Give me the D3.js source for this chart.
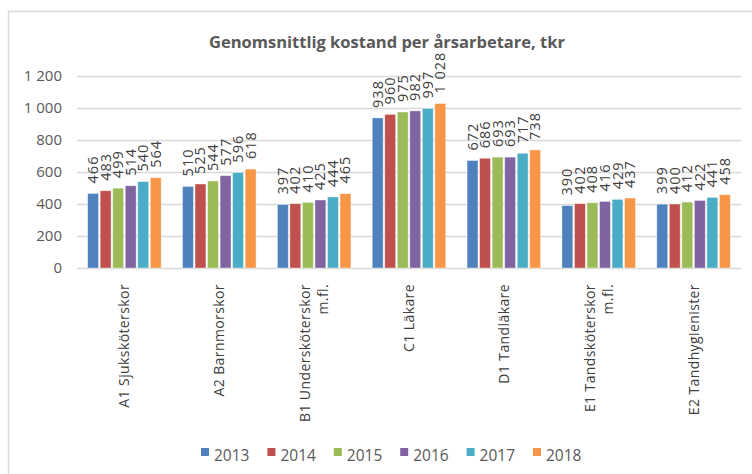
<!DOCTYPE html>
<html>
<head>
<meta charset="utf-8">
<script src="https://cdn.jsdelivr.net/npm/d3@7"></script>
<style>
  body { margin: 0; background: #fff; }
  svg text { font-family: "Open Sans", "Liberation Sans", sans-serif; }
</style>
</head>
<body>
<div id="chart"></div>
<script>
const width = 752;
const height = 474;

const categories = [
    ["A1 Sjuksköterskor"],
    ["A2 Barnmorskor"],
    ["B1 Undersköterskor", "m.fl."],
    ["C1 Läkare"],
    ["D1 Tandläkare"],
    ["E1 Tandsköterskor", "m.fl."],
    ["E2 Tandhygienister"]
];
const years = ["2013", "2014", "2015", "2016", "2017", "2018"];
const colors = ["#4f81bd", "#c0504d", "#9bbb59", "#8064a2", "#4bacc6", "#f79646"];

// one array per year, one value per category
const v2013 = [466, 510, 397, 938, 672, 390, 399];
const v2014 = [483, 525, 402, 960, 686, 402, 400];
const v2015 = [499, 544, 410, 975, 693, 408, 412];
const v2016 = [514, 577, 425, 982, 693, 416, 422];
const v2017 = [540, 596, 444, 997, 717, 429, 441];
const v2018 = [564, 618, 465, 1028, 738, 437, 458];
const series = [v2013, v2014, v2015, v2016, v2017, v2018];

const yTicks = [0, 200, 400, 600, 800, 1000, 1200];

const locale = d3.formatLocale({ decimal: ",", thousands: " ", grouping: [3], currency: ["", ""] });
const fmt = locale.format(",d");

const plot = { left: 77, right: 741, top: 76, bottom: 268 };

const svg = d3.select("#chart").append("svg")
    .attr("width", width)
    .attr("height", height);

//Chart outer border
svg.append("rect")
    .attr("x", 8.5).attr("y", 11.5)
    .attr("width", 780).attr("height", 500)
    .attr("fill", "#fff")
    .attr("stroke", "#d9d9d9")
    .attr("stroke-width", 1.5);

svg.append("text")
    .attr("x", 387).attr("y", 48)
    .attr("text-anchor", "middle")
    .attr("font-size", 16.5)
    .attr("font-weight", "bold")
    .attr("fill", "#595959")
    .text("Genomsnittlig kostand per årsarbetare, tkr");

const x0 = d3.scaleBand()
    .domain(d3.range(categories.length))
    .range([plot.left, plot.right]);

const x1 = d3.scaleBand()
    .domain(years)
    .range([0, x0.bandwidth()])
    .paddingInner(0.13)
    .paddingOuter(0.85);

const y = d3.scaleLinear()
    .domain([0, 1200])
    .range([plot.bottom, plot.top]);

//Gridlines and tick labels
const yAxis = d3.axisLeft(y)
    .tickValues(yTicks)
    .tickSize(-(plot.right - plot.left))
    .tickPadding(15)
    .tickFormat(fmt);

svg.append("g")
    .attr("transform", `translate(${plot.left}, 0)`)
    .call(yAxis)
    .call(g => g.select(".domain").remove())
    .call(g => g.selectAll("line").attr("stroke", "#d9d9d9").attr("stroke-width", 1.5))
    .call(g => g.selectAll("text")
        .attr("fill", "#595959")
        .attr("font-size", 15)
        .style("font-family", "'Open Sans', sans-serif"));

//Bars
const groups = svg.append("g").selectAll("g")
    .data(categories)
    .enter()
    .append("g")
    .attr("transform", (d, i) => `translate(${x0(i)}, 0)`);

years.forEach((yr, s) => {
    groups.append("rect")
        .attr("x", x1(yr))
        .attr("y", (d, i) => y(series[s][i]))
        .attr("width", x1.bandwidth())
        .attr("height", (d, i) => y(0) - y(series[s][i]))
        .attr("fill", colors[s])
        .attr("stroke", "#fff")
        .attr("stroke-opacity", 0.5)
        .attr("stroke-width", 0.8);

    groups.append("text")
        .attr("transform", (d, i) =>
            `translate(${x1(yr) + x1.bandwidth() / 2 + 5}, ${y(series[s][i]) - 10}) rotate(-90)`)
        .attr("font-size", 14.5)
        .attr("letter-spacing", 1)
        .attr("fill", "#404040")
        .text((d, i) => fmt(series[s][i]));
});

//Category labels, rotated
const catLabels = svg.append("g").selectAll("text")
    .data(categories)
    .enter()
    .append("text")
    .attr("transform", (d, i) => {
        const cx = x0(i) + x0.bandwidth() / 2 - (d.length - 1) * 9 + 5;
        return `translate(${cx}, 284) rotate(-90)`;
    })
    .attr("text-anchor", "end")
    .attr("font-size", 14)
    .attr("letter-spacing", 0.4)
    .attr("fill", "#404040");

catLabels.selectAll("tspan")
    .data(d => d)
    .enter()
    .append("tspan")
    .attr("x", 0)
    .attr("dy", (d, i) => i === 0 ? 0 : 18)
    .text(d => d);

//Legend
const legend = svg.append("g")
    .attr("transform", "translate(201, 456)");

const legendItems = legend.selectAll("g")
    .data(years)
    .enter()
    .append("g")
    .attr("transform", (d, i) => `translate(${i * 66.4}, 0)`);

legendItems.append("rect")
    .attr("x", 0).attr("y", -8)
    .attr("width", 8).attr("height", 8)
    .attr("fill", (d, i) => colors[i]);

legendItems.append("text")
    .attr("x", 13).attr("y", 5)
    .attr("font-size", 15.5)
    .attr("fill", "#595959")
    .text(d => d);
</script>
</body>
</html>
